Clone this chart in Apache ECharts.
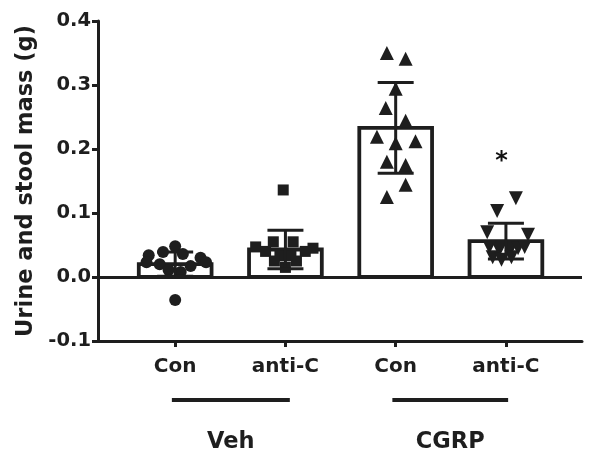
<!DOCTYPE html>
<html>
<head>
<meta charset="utf-8">
<script src="https://cdn.jsdelivr.net/npm/echarts@6/dist/echarts.min.js"></script>
<style>html,body{margin:0;padding:0;background:#fff;}#c{width:601px;height:461px;}</style>
</head>
<body>
<div id="c"></div>
<script>
// ---- data ----
const categories = ['Con', 'anti-C', 'Con', 'anti-C'];
const groupNames = ['Veh', 'CGRP'];
const groupSpans = [[0.97, 2.04], [2.97, 4.02]];
const yTicks = [-0.1, 0.0, 0.1, 0.2, 0.3, 0.4];
const means = [0.020, 0.043, 0.233, 0.056];
const sds = [0.019, 0.030, 0.071, 0.028];

const vehConValues   = [0.034, 0.039, 0.048, 0.036, 0.030, 0.023, 0.023, 0.020, 0.017, 0.011, 0.008, -0.036];
const vehConJitter   = [-0.24, -0.11, 0.00, 0.07, 0.23, 0.28, -0.26, -0.14, 0.14, -0.06, 0.05, 0.00];
const vehAntiValues  = [0.136, 0.055, 0.055, 0.047, 0.045, 0.040, 0.040, 0.033, 0.033, 0.025, 0.025, 0.015];
const vehAntiJitter  = [-0.02, -0.11, 0.07, -0.27, 0.25, -0.18, 0.18, -0.05, 0.05, -0.10, 0.10, 0.00];
const cgrpConValues  = [0.350, 0.341, 0.294, 0.264, 0.244, 0.219, 0.209, 0.212, 0.180, 0.175, 0.144, 0.125];
const cgrpConJitter  = [-0.08, 0.09, 0.00, -0.09, 0.09, -0.17, 0.00, 0.18, -0.08, 0.09, 0.09, -0.08];
const cgrpAntiValues = [0.123, 0.103, 0.070, 0.066, 0.047, 0.042, 0.042, 0.045, 0.047, 0.031, 0.027, 0.031];
const cgrpAntiJitter = [0.09, -0.08, -0.17, 0.20, -0.15, -0.06, 0.04, 0.11, 0.17, -0.12, -0.04, 0.05];
const starPosition = [3.96, 0.180];

// ---- chart ----
const INK = '#1e1e1e';
const FONT = 'DejaVu Sans';
const chart = echarts.init(document.getElementById('c'), null, {renderer: 'canvas'});

function pts(values, jitter, xc) {
  return values.map((v, i) => [xc + jitter[i], v]);
}

const barData = categories.map((c, i) => [i + 1, means[i]]);
const errData = categories.map((c, i) => [i + 1, means[i], sds[i]]);
const groupData = groupSpans.map((s, i) => [s[0], s[1], i]);
const dotStyle = {color: INK, opacity: 1};

const option = {
  animation: false,
  backgroundColor: '#fff',
  grid: {left: 98, right: 19, top: 21, bottom: 120},
  xAxis: {
    type: 'value', min: 0.3, max: 4.69,
    splitLine: {show: false},
    axisLine: {show: true, onZero: false, lineStyle: {color: INK, width: 3}},
    axisTick: {show: true, customValues: [1, 2, 3, 4], length: 6, lineStyle: {color: INK, width: 3}},
    axisLabel: {
      customValues: [1, 2, 3, 4], margin: 16,
      formatter: v => categories[Math.round(v) - 1] || '',
      color: INK, fontFamily: FONT, fontWeight: 'bold', fontSize: 20
    }
  },
  yAxis: {
    type: 'value', min: -0.1, max: 0.4, interval: 0.1,
    name: 'Urine and stool mass (g)', nameLocation: 'middle', nameGap: 54,
    nameTextStyle: {color: INK, fontFamily: FONT, fontWeight: 'bold', fontSize: 22.5},
    splitLine: {show: false},
    axisLine: {show: true, onZero: false, lineStyle: {color: INK, width: 3}},
    axisTick: {show: true, length: 6, lineStyle: {color: INK, width: 3}},
    axisLabel: {
      margin: 7, formatter: v => v.toFixed(1),
      color: INK, fontFamily: FONT, fontWeight: 'bold', fontSize: 19.5
    }
  },
  series: [
    {
      type: 'custom', z: 1, data: barData,
      renderItem: (params, api) => {
        const x = api.value(0), m = api.value(1);
        const p0 = api.coord([x - 0.33, m]);
        const p1 = api.coord([x + 0.33, 0]);
        return {type: 'rect', shape: {x: p0[0], y: p0[1], width: p1[0] - p0[0], height: p1[1] - p0[1]},
                style: {fill: '#fff', stroke: INK, lineWidth: 3.8}};
      },
      markLine: {
        silent: true, symbol: 'none', label: {show: false},
        lineStyle: {color: INK, width: 3, type: 'solid'},
        data: [{yAxis: 0}]
      }
    },
    {type: 'scatter', z: 3, symbol: 'circle', symbolSize: 12, itemStyle: dotStyle, data: pts(vehConValues, vehConJitter, 1)},
    {type: 'scatter', z: 3, symbol: 'rect', symbolSize: 11, itemStyle: dotStyle, data: pts(vehAntiValues, vehAntiJitter, 2)},
    {type: 'scatter', z: 3, symbol: 'triangle', symbolSize: 14, itemStyle: dotStyle, data: pts(cgrpConValues, cgrpConJitter, 3)},
    {type: 'scatter', z: 3, symbol: 'triangle', symbolRotate: 180, symbolSize: 14, itemStyle: dotStyle, data: pts(cgrpAntiValues, cgrpAntiJitter, 4)},
    {
      type: 'custom', z: 4, data: errData,
      renderItem: (params, api) => {
        const x = api.value(0), m = api.value(1), s = api.value(2);
        const t = api.coord([x, m + s]);
        const b = api.coord([x, m - s]);
        const h = 18;
        const st = {stroke: INK, lineWidth: 3};
        return {type: 'group', children: [
          {type: 'line', shape: {x1: t[0], y1: t[1], x2: b[0], y2: b[1]}, style: st},
          {type: 'line', shape: {x1: t[0] - h, y1: t[1], x2: t[0] + h, y2: t[1]}, style: st},
          {type: 'line', shape: {x1: b[0] - h, y1: b[1], x2: b[0] + h, y2: b[1]}, style: st}
        ]};
      }
    },
    {
      type: 'scatter', z: 5, symbolSize: 1, itemStyle: {color: 'rgba(0,0,0,0)', opacity: 1},
      label: {show: true, position: 'inside', formatter: '*', color: '#111', opacity: 1, fontFamily: FONT, fontWeight: 'bold', fontSize: 24},
      data: [starPosition]
    },
    {
      type: 'custom', z: 5, clip: false, data: groupData,
      renderItem: (params, api) => {
        const a = api.coord([api.value(0), -0.1]);
        const b = api.coord([api.value(1), -0.1]);
        const name = groupNames[api.value(2)];
        return {type: 'group', children: [
          {type: 'line', shape: {x1: a[0], y1: a[1] + 59, x2: b[0], y2: b[1] + 59}, style: {stroke: INK, lineWidth: 4}},
          {type: 'text', style: {text: name, x: (a[0] + b[0]) / 2, y: a[1] + 101, align: 'center', verticalAlign: 'middle',
            fill: INK, font: 'bold 22.5px "' + FONT + '"'}}
        ]};
      }
    }
  ]
};
chart.setOption(option);
</script>
</body>
</html>
